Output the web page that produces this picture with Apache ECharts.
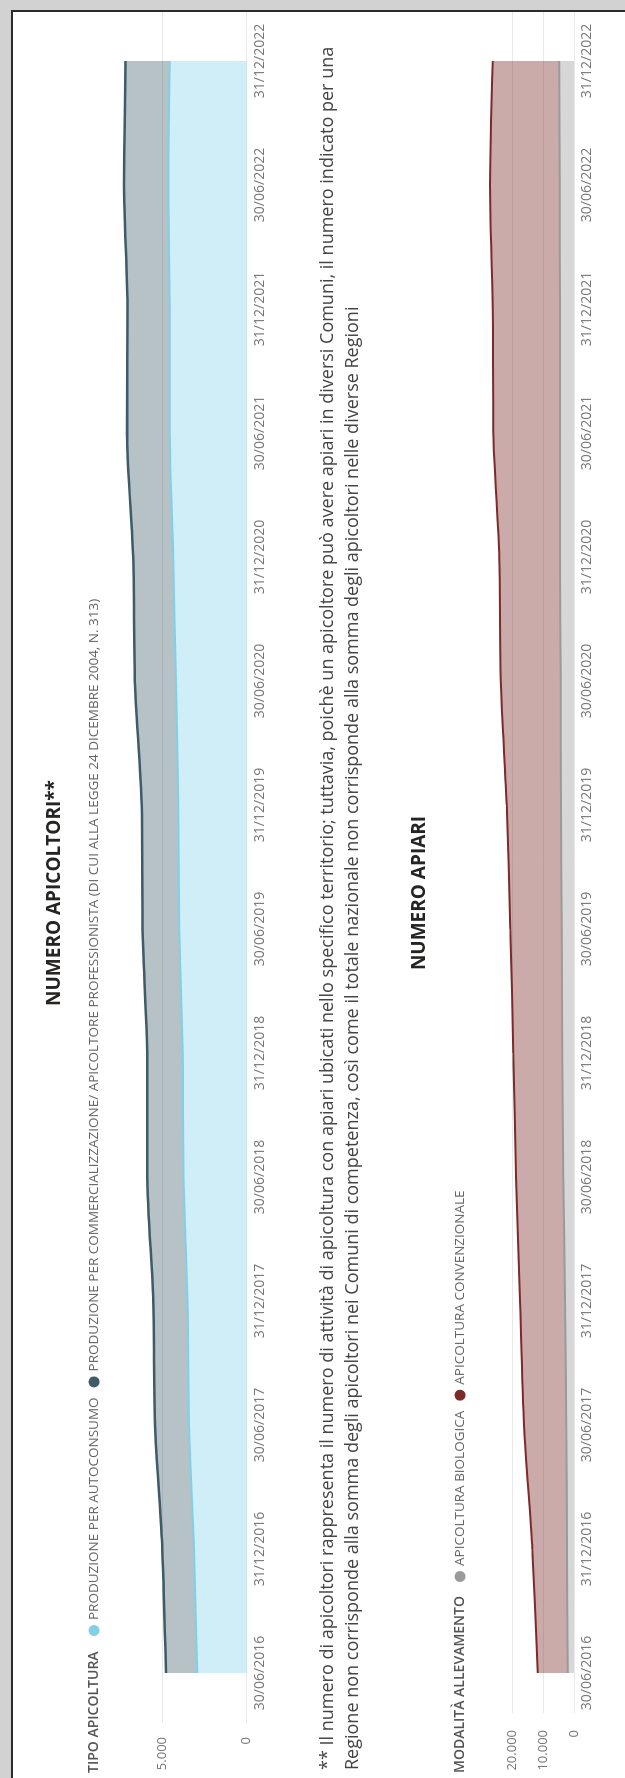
<!DOCTYPE html>
<html>
<head>
<meta charset="utf-8">
<script src="https://cdn.jsdelivr.net/npm/echarts@6/dist/echarts.min.js"></script>
<style>
  html, body { margin: 0; padding: 0; background: #fff; width: 625px; height: 1778px; overflow: hidden; }
  /* the dashboard is laid out landscape and turned a quarter turn to fit the portrait page */
  #chart { position: absolute; left: 0; top: 0; width: 1778px; height: 625px;
           transform-origin: 0 0; transform: translateY(1778px) rotate(-90deg); background: #fff; }
</style>
</head>
<body>
<div id="chart"></div>
<script>
// Semester end dates
const dates = ['30/06/2016', '31/12/2016', '30/06/2017', '31/12/2017', '30/06/2018', '31/12/2018',
               '30/06/2019', '31/12/2019', '30/06/2020', '31/12/2020', '30/06/2021', '31/12/2021',
               '30/06/2022', '31/12/2022'];

// Numero apicoltori, by type of production (stacked)
const autoconsumo = [2930, 3120, 3420, 3500, 3740, 3790, 3990, 4050, 4190, 4350, 4550, 4550, 4640, 4550];
const commercializzazione = [1850, 1880, 2010, 2030, 2140, 2100, 2180, 2160, 2430, 2370, 2530, 2510, 2630, 2620];

// Numero apiari, by breeding method (stacked)
const biologica = [2070, 2280, 2500, 2930, 3480, 3800, 4020, 4240, 4350, 4560, 4560, 4570, 4670, 4780];
const convenzionale = [9780, 11310, 13800, 14680, 15420, 15980, 16740, 17720, 19560, 19790, 21740, 21950, 22720, 21740];

// Axis tick settings
const apicoltoriTicks = { min: 0, max: 7500, interval: 5000 };
const apiariTicks = { min: 0, max: 30000, interval: 10000 };

const NAME_AUTO = 'PRODUZIONE PER AUTOCONSUMO';
const NAME_COMM = 'PRODUZIONE PER COMMERCIALIZZAZIONE/ APICOLTORE PROFESSIONISTA (DI CUI ALLA LEGGE 24 DICEMBRE 2004, N. 313)';
const NAME_BIO = 'APICOLTURA BIOLOGICA';
const NAME_CONV = 'APICOLTURA CONVENZIONALE';

const NOTE_1 = '** Il numero di apicoltori rappresenta il numero di attività di apicoltura con apiari ubicati nello specifico territorio; tuttavia, poichè un apicoltore può avere apiari in diversi Comuni, il numero indicato per una';
const NOTE_2 = 'Regione non corrisponde alla somma degli apicoltori nei Comuni di competenza, così come il totale nazionale non corrisponde alla somma degli apicoltori nelle diverse Regioni';

const FONT = "'Segoe UI', 'Open Sans', sans-serif";
const LABEL_GREY = '#777777';
const GRID_GREY = '#e8e8e8';

const thousands = v => String(v).replace(/\B(?=(\d{3})+(?!\d))/g, '.');

function categoryAxis(gridIndex) {
  return {
    type: 'category', gridIndex, data: dates, boundaryGap: false,
    axisLine: { show: false }, axisTick: { show: false }, splitLine: { show: false },
    axisLabel: { interval: 0, margin: 6, fontFamily: FONT, fontSize: 14, color: LABEL_GREY }
  };
}
function hiddenValueX(gridIndex) {
  return { type: 'value', gridIndex, min: 0, max: 1, show: false };
}
function dataY(gridIndex, ticks) {
  return { type: 'value', gridIndex, min: ticks.min, max: ticks.max, show: false, splitLine: { show: false } };
}
function ruledY(gridIndex, ticks, margin) {
  return {
    type: 'value', gridIndex, min: ticks.min, max: ticks.max, interval: ticks.interval,
    axisLine: { show: false }, axisTick: { show: false },
    axisLabel: { margin, fontFamily: FONT, fontSize: 13, color: LABEL_GREY, formatter: thousands, showMaxLabel: false },
    splitLine: { show: true, showMaxLine: false, lineStyle: { color: GRID_GREY, width: 1 } }
  };
}
function areaSeries(name, data, xi, yi, line, lineWidth, fill, stack) {
  return {
    name, type: 'line', data, xAxisIndex: xi, yAxisIndex: yi, stack,
    smooth: 0.25, showSymbol: false, symbol: 'circle',
    itemStyle: { color: line },
    lineStyle: { color: line, width: lineWidth },
    areaStyle: { color: fill, opacity: 1 },
    emphasis: { disabled: true }, silent: true
  };
}
function legend(top, left, names) {
  return {
    data: names, top, left, padding: 0, icon: 'circle', itemWidth: 11, itemHeight: 11, itemGap: 10,
    selectedMode: false, textStyle: { fontFamily: FONT, fontSize: 13.5, color: '#666666', lineHeight: 16 }
  };
}
function text(x, y, str, opts) {
  return { type: 'text', x, y, silent: true,
           style: Object.assign({ text: str, fontFamily: FONT, textVerticalAlign: 'middle' }, opts) };
}

const chart = echarts.init(document.getElementById('chart'), null, { renderer: 'canvas' });

chart.setOption({
  animation: false,
  backgroundColor: '#ffffff',
  grid: [
    { left: 105, right: 61, top: 120, height: 126.7 },
    { left: 55, right: 12, top: 120, height: 126.7 },
    { left: 105, right: 61, top: 482, height: 92 },
    { left: 65, right: 12, top: 482, height: 92 }
  ],
  xAxis: [categoryAxis(0), hiddenValueX(1), categoryAxis(2), hiddenValueX(3)],
  yAxis: [dataY(0, apicoltoriTicks), ruledY(1, apicoltoriTicks, 14), dataY(2, apiariTicks), ruledY(3, apiariTicks, 17)],
  legend: [
    legend(86, 142, [NAME_AUTO, NAME_COMM]),
    legend(452, 196, [NAME_BIO, NAME_CONV])
  ],
  series: [
    areaSeries(NAME_AUTO, autoconsumo, 0, 0, '#82cfe8', 2, 'rgba(138,212,235,0.40)', 'tipo'),
    areaSeries(NAME_COMM, commercializzazione, 0, 0, '#3e5b67', 2.5, 'rgba(60,90,102,0.37)', 'tipo'),
    areaSeries(NAME_BIO, biologica, 2, 2, '#9a9a9a', 2, 'rgba(156,156,156,0.40)', 'modalita'),
    areaSeries(NAME_CONV, convenzionale, 2, 2, '#7d2a2a', 2, 'rgba(125,43,43,0.40)', 'modalita')
  ],
  graphic: [
    // window frame
    { type: 'rect', silent: true, shape: { x: 0, y: 0, width: 1778, height: 11 }, style: { fill: '#d2d2d2' } },
    { type: 'rect', silent: true, shape: { x: 1768, y: 0, width: 10, height: 625 }, style: { fill: '#d2d2d2' } },
    { type: 'rect', silent: true, shape: { x: 0, y: 11, width: 1768, height: 2 }, style: { fill: '#2b2b2b' } },
    { type: 'rect', silent: true, shape: { x: 1766, y: 11, width: 2, height: 614 }, style: { fill: '#2b2b2b' } },
    // headings
    text(885, 55, 'NUMERO APICOLTORI**', { textAlign: 'center', fontSize: 19, fontWeight: 'bold', fill: '#252423' }),
    text(5, 94, 'TIPO APICOLTURA', { textAlign: 'left', fontSize: 14, fontWeight: 600, fill: '#555555' }),
    text(8, 328, NOTE_1, { textAlign: 'left', fontSize: 18, fill: '#444444' }),
    text(8, 353, NOTE_2, { textAlign: 'left', fontSize: 18, fill: '#444444' }),
    text(885, 420, 'NUMERO APIARI', { textAlign: 'center', fontSize: 19, fontWeight: 'bold', fill: '#252423' }),
    text(5, 460, 'MODALITÀ ALLEVAMENTO', { textAlign: 'left', fontSize: 14, fontWeight: 600, fill: '#555555' })
  ]
});
</script>
</body>
</html>
